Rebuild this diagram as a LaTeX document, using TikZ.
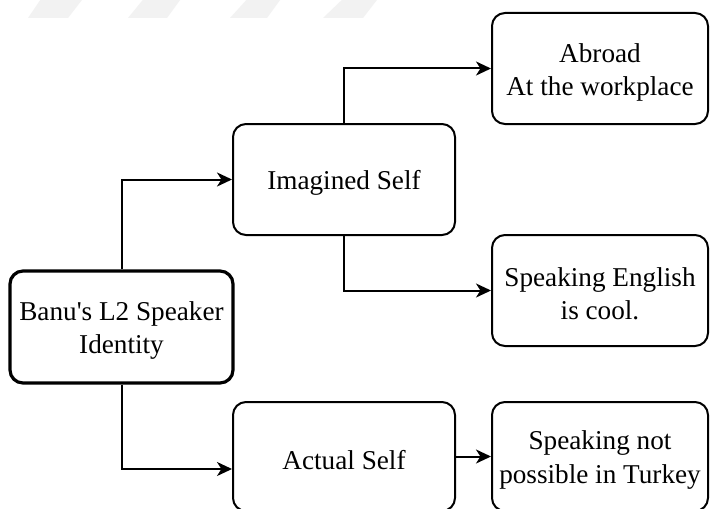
\documentclass[tikz,border=0pt]{standalone}
\usepackage{fontspec}
\newfontfamily\boxfont{Liberation Serif}
\usetikzlibrary{arrows.meta,calc}

% extra head room on the first line, lowers the text a little in its box
\newcommand\topstrut{\rule{0pt}{13pt}}

\tikzset{
  box/.style={draw=black, line width=1pt, rounded corners=6.5pt, fill=white,
    align=center, inner sep=0pt, font=\boxfont\fontsize{13.6pt}{16.6pt}\selectfont},
  rootbox/.style={box, line width=1.6pt},
  arr/.style={draw=black, line width=1pt,
    -{Stealth[length=7.5pt, width=7pt, inset=2.2pt]}},
  stripe/.style={fill=black!5, draw=none},
}

\begin{document}
\begin{tikzpicture}[x=0.5pt, y=-0.5pt]
  \useasboundingbox (0,0) rectangle (710,508);
  \fill[white] (0,0) rectangle (710,508);

  % faint slanted stripes along the top edge
  \fill[stripe] (43,-4) -- (85,-4) -- (68,18) -- (28,18) -- cycle;
  \fill[stripe] (146,-4) -- (183,-4) -- (167,18) -- (128,18) -- cycle;
  \fill[stripe] (250,-4) -- (283,-4) -- (267,18) -- (230,18) -- cycle;
  \fill[stripe] (346,-4) -- (380,-4) -- (363,18) -- (323,18) -- cycle;

  % boxes
  \node[rootbox, minimum width=111.5pt, minimum height=56pt] (root) at (121.5,327)
    {\topstrut Banu's L2 Speaker\\Identity};
  \node[box, minimum width=111pt, minimum height=55.5pt] (img) at (344,179.5)
    {\topstrut Imagined Self};
  \node[box, minimum width=111pt, minimum height=54.5pt] (act) at (344,456.5)
    {\topstrut Actual Self};
  \node[box, minimum width=108pt, minimum height=55.5pt] (abr) at (600,68.5)
    {\topstrut Abroad\\At the workplace};
  \node[box, minimum width=108pt, minimum height=55.5pt] (eng) at (600,290.5)
    {\topstrut Speaking English\\is cool.};
  \node[box, minimum width=108pt, minimum height=54.5pt] (tur) at (600,456.5)
    {\topstrut Speaking not\\possible in Turkey};

  % connectors
  \coordinate (actin) at ($(act.west)+(0,12.5)$);
  \draw[arr] (root.north) |- (img.west);
  \draw[arr] (root.south) |- (actin);
  \draw[arr] (img.north) |- (abr.west);
  \draw[arr] (img.south) |- (eng.west);
  \draw[arr] (act.east) -- (tur.west);
\end{tikzpicture}
\end{document}
